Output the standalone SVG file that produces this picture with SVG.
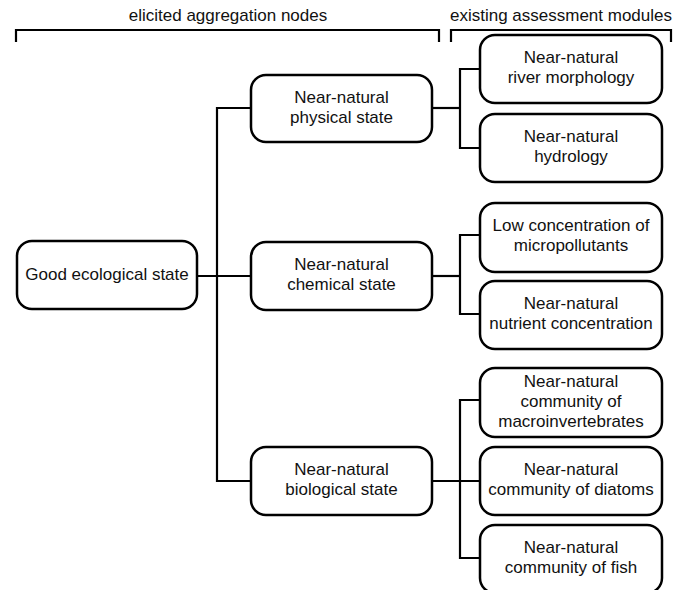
<svg xmlns="http://www.w3.org/2000/svg" width="684" height="590" viewBox="0 0 684 590">
<style>
.box{fill:#fff;stroke:#000;stroke-width:2.5}
.t{font-family:"Liberation Sans",Arial,sans-serif;font-size:17px;fill:#111;text-anchor:middle}
.ln{fill:none;stroke:#000;stroke-width:2.2}
</style>
<rect width="684" height="590" fill="#fff"/>
<g id="headers">
<text class="t" x="228" y="21">elicited aggregation nodes</text>
<text class="t" x="561" y="21">existing assessment modules</text>
<path class="ln" d="M16,42 V30 H439 V42"/>
<path class="ln" d="M451,42 V30 H671 V42"/>
</g>
<g id="connectors">
<path class="ln" d="M197,276 H251"/>
<path class="ln" d="M251,108 H217 V481 H251"/>
<path class="ln" d="M432,108 H460"/>
<path class="ln" d="M480,69 H460 V148 H480"/>
<path class="ln" d="M432,276 H460"/>
<path class="ln" d="M480,235 H460 V314 H480"/>
<path class="ln" d="M432,481 H480"/>
<path class="ln" d="M480,400 H460 V558 H480"/>
</g>
<g id="good">
<rect class="box" x="17" y="241" width="180" height="68" rx="15"/>
<text class="t" x="107" y="280">Good ecological state</text>
</g>
<g id="physical">
<rect class="box" x="251" y="75" width="181" height="67" rx="15"/>
<text class="t" x="341.5" y="103">Near-natural</text>
<text class="t" x="341.5" y="123">physical state</text>
</g>
<g id="chemical">
<rect class="box" x="251" y="242" width="181" height="68" rx="15"/>
<text class="t" x="341.5" y="270">Near-natural</text>
<text class="t" x="341.5" y="290">chemical state</text>
</g>
<g id="biological">
<rect class="box" x="251" y="447" width="181" height="68" rx="15"/>
<text class="t" x="341.5" y="475">Near-natural</text>
<text class="t" x="341.5" y="495">biological state</text>
</g>
<g id="morphology">
<rect class="box" x="480" y="35" width="182" height="68" rx="15"/>
<text class="t" x="571" y="63">Near-natural</text>
<text class="t" x="571" y="83">river morphology</text>
</g>
<g id="hydrology">
<rect class="box" x="480" y="114" width="182" height="68" rx="15"/>
<text class="t" x="571" y="142">Near-natural</text>
<text class="t" x="571" y="162">hydrology</text>
</g>
<g id="micropollutants">
<rect class="box" x="480" y="203" width="182" height="69" rx="15"/>
<text class="t" x="571" y="231">Low concentration of</text>
<text class="t" x="571" y="251">micropollutants</text>
</g>
<g id="nutrient">
<rect class="box" x="480" y="281" width="182" height="68" rx="15"/>
<text class="t" x="571" y="309">Near-natural</text>
<text class="t" x="571" y="329">nutrient concentration</text>
</g>
<g id="macroinvertebrates">
<rect class="box" x="480" y="368" width="182" height="69" rx="15"/>
<text class="t" x="571" y="387">Near-natural</text>
<text class="t" x="571" y="407">community of</text>
<text class="t" x="571" y="427">macroinvertebrates</text>
</g>
<g id="diatoms">
<rect class="box" x="480" y="447" width="182" height="68" rx="15"/>
<text class="t" x="571" y="475">Near-natural</text>
<text class="t" x="571" y="495">community of diatoms</text>
</g>
<g id="fish">
<rect class="box" x="480" y="525" width="182" height="68" rx="15"/>
<text class="t" x="571" y="553">Near-natural</text>
<text class="t" x="571" y="573">community of fish</text>
</g>
</svg>
